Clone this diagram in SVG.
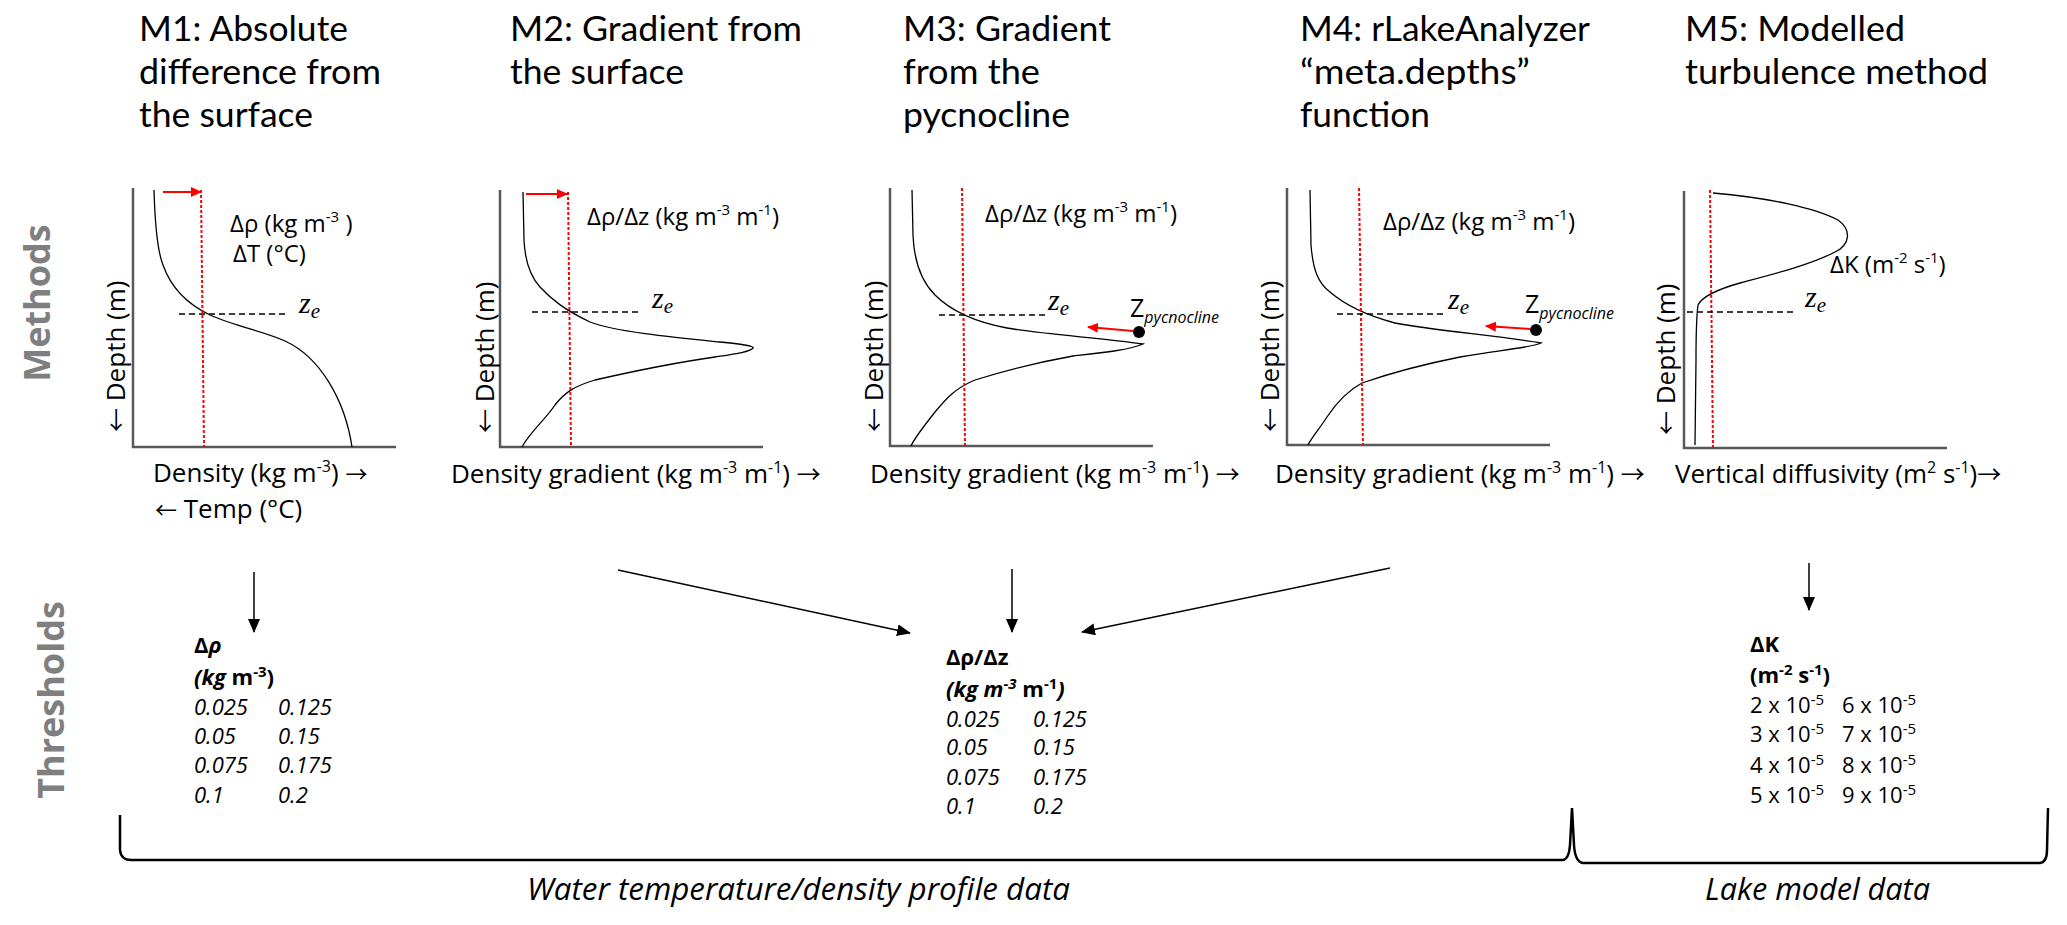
<svg xmlns="http://www.w3.org/2000/svg" width="2067" height="925" viewBox="0 0 2067 925">
<style>
text{font-family:"Open Sans","Noto Sans","DejaVu Sans",sans-serif;fill:#000}
.title{font-family:Lato,"Open Sans",sans-serif;font-size:35px}
.lab{font-size:26px}
.unit{font-size:24px}
.arr{font-family:"Noto Sans CJK SC","DejaVu Sans",sans-serif;font-size:24px}
.arr2{font-family:"Noto Sans CJK SC","DejaVu Sans",sans-serif;font-size:22px}
.ze{font-family:"Liberation Serif",serif;font-style:italic;font-size:30px}
.zp{font-size:25px}
.th{font-size:22px}
.it{font-style:italic}
.b{font-weight:bold}
.side{font-weight:bold;font-size:36px;fill:#7f7f7f}
.bottom{font-size:31px;font-style:italic}
.axis{stroke:#595959;stroke-width:2.5;fill:none}
.curve{stroke:#000;stroke-width:1.3;fill:none}
.red{stroke:#ff0000;stroke-width:2;stroke-dasharray:3 2;fill:none}
.redarr{stroke:#ff0000;stroke-width:2;fill:none;marker-end:url(#rah)}
.dash{stroke:#000;stroke-width:1.5;stroke-dasharray:6 4;fill:none}
.conn{stroke:#000;stroke-width:1.5;fill:none;marker-end:url(#ah)}
.brace{stroke:#000;stroke-width:2.5;fill:none}
</style>
<defs>
<marker id="ah" markerWidth="14" markerHeight="12" refX="13" refY="6" orient="auto" markerUnits="userSpaceOnUse"><path d="M0,0 L14,6 L0,12 z" fill="#000"/></marker>
<marker id="rah" markerWidth="11" markerHeight="10" refX="10" refY="5" orient="auto" markerUnits="userSpaceOnUse"><path d="M0,0 L11,5 L0,10 z" fill="#ff0000"/></marker>
</defs>
<rect width="2067" height="925" fill="#fff"/>

<g id="side-labels">
<text class="side" text-anchor="middle" transform="translate(50,303) rotate(-90)">Methods</text>
<text class="side" text-anchor="middle" transform="translate(64,700) rotate(-90)">Thresholds</text>
</g>

<g id="m1">
<text class="title" x="139" y="41" textLength="209" lengthAdjust="spacingAndGlyphs">M1: Absolute</text>
<text class="title" x="139" y="84" textLength="242" lengthAdjust="spacingAndGlyphs">difference from</text>
<text class="title" x="139" y="127" textLength="174" lengthAdjust="spacingAndGlyphs">the surface</text>
<path class="axis" d="M133,188 L133,447 L396,447"/>
<path class="curve" d="M154,190 C155,225 157,250 163,265 C170,285 185,303 210,315 C235,326 265,332 285,341 C320,357 345,400 352,447"/>
<line class="red" x1="201" y1="190" x2="204" y2="447"/>
<line class="redarr" x1="163" y1="192" x2="201" y2="192"/>
<line class="dash" x1="179" y1="314" x2="287" y2="314"/>
<text class="ze" x="299" y="313">z<tspan font-size="21" dy="5">e</tspan></text>
<text class="unit" x="230" y="232">Δρ (kg m<tspan font-size="15" dy="-10">-3</tspan><tspan dy="10"> )</tspan></text>
<text class="unit" x="233" y="262">ΔT (°C)</text>
<text class="lab" transform="translate(125,432) rotate(-90)"><tspan class="arr">←</tspan> Depth (m)</text>
<text class="lab" x="153" y="482">Density (kg m<tspan font-size="16" dy="-10">-3</tspan><tspan dy="10">) </tspan><tspan class="arr2">→</tspan></text>
<text class="lab" x="155" y="518" font-size="25"><tspan class="arr2">←</tspan> Temp (°C)</text>
</g>

<g id="m2">
<text class="title" x="510" y="41" textLength="292" lengthAdjust="spacingAndGlyphs">M2: Gradient from</text>
<text class="title" x="510" y="84" textLength="174" lengthAdjust="spacingAndGlyphs">the surface</text>
<path class="axis" d="M500,190 L500,447 L763,447"/>
<path class="curve" d="M523,192 L524,240 C525,262 530,276 540,287 C552,300 565,310 590,322 C615,332 680,338 720,342 C740,344 755,346 753,348 C750,352 735,354 715,357 C680,362 630,372 595,380 C575,386 565,392 555,405 C545,420 530,432 522,447"/>
<line class="red" x1="568" y1="192" x2="571" y2="447"/>
<line class="redarr" x1="526" y1="194" x2="567" y2="194"/>
<line class="dash" x1="532" y1="312" x2="640" y2="312"/>
<text class="ze" x="652" y="308">z<tspan font-size="21" dy="5">e</tspan></text>
<text class="unit" x="587" y="225">Δρ/Δz (kg m<tspan font-size="15" dy="-10">-3</tspan><tspan dy="10"> m</tspan><tspan font-size="15" dy="-10">-1</tspan><tspan dy="10">)</tspan></text>
<text class="lab" transform="translate(494,433) rotate(-90)"><tspan class="arr">←</tspan> Depth (m)</text>
<text class="lab" x="451" y="483">Density gradient (kg m<tspan font-size="16" dy="-10">-3</tspan><tspan dy="10"> m</tspan><tspan font-size="16" dy="-10">-1</tspan><tspan dy="10">) </tspan><tspan class="arr">→</tspan></text>
</g>

<g id="m3">
<text class="title" x="903" y="41" textLength="208" lengthAdjust="spacingAndGlyphs">M3: Gradient</text>
<text class="title" x="903" y="84" textLength="137" lengthAdjust="spacingAndGlyphs">from the</text>
<text class="title" x="903" y="127" textLength="167" lengthAdjust="spacingAndGlyphs">pycnocline</text>
<path class="axis" d="M890,188 L890,446 L1153,446"/>
<path class="curve" d="M912,190 L913,235 C914,260 920,280 935,295 C950,310 975,322 1007,328 C1040,334 1100,338 1143,344 C1130,350 1100,353 1073,356 C1040,362 1000,372 975,380 C955,388 945,400 935,412 C925,425 915,437 911,446"/>
<line class="red" x1="962" y1="188" x2="965" y2="446"/>
<line class="dash" x1="939" y1="315" x2="1047" y2="315"/>
<text class="ze" x="1048" y="310">z<tspan font-size="21" dy="5">e</tspan></text>
<circle cx="1139" cy="332" r="6" fill="#000"/>
<line class="redarr" x1="1133" y1="331" x2="1088" y2="327"/>
<text class="zp" x="1130" y="317">Z<tspan class="it" font-size="16" dy="6">pycnocline</tspan></text>
<text class="unit" x="985" y="222">Δρ/Δz (kg m<tspan font-size="15" dy="-10">-3</tspan><tspan dy="10"> m</tspan><tspan font-size="15" dy="-10">-1</tspan><tspan dy="10">)</tspan></text>
<text class="lab" transform="translate(883,432) rotate(-90)"><tspan class="arr">←</tspan> Depth (m)</text>
<text class="lab" x="870" y="483">Density gradient (kg m<tspan font-size="16" dy="-10">-3</tspan><tspan dy="10"> m</tspan><tspan font-size="16" dy="-10">-1</tspan><tspan dy="10">) </tspan><tspan class="arr">→</tspan></text>
</g>

<g id="m4">
<text class="title" x="1300" y="41" textLength="290" lengthAdjust="spacingAndGlyphs">M4: rLakeAnalyzer</text>
<text class="title" x="1300" y="84" textLength="230" lengthAdjust="spacingAndGlyphs">“meta.depths”</text>
<text class="title" x="1300" y="127" textLength="130" lengthAdjust="spacingAndGlyphs">function</text>
<path class="axis" d="M1287,188 L1287,445 L1550,445"/>
<path class="curve" d="M1310,190 L1311,245 C1313,270 1318,283 1330,292 C1345,305 1365,315 1395,323 C1430,330 1500,336 1541,343 C1530,348 1500,350 1460,357 C1420,365 1385,375 1362,383 C1345,392 1335,405 1327,417 C1320,428 1312,437 1308,445"/>
<line class="red" x1="1359" y1="188" x2="1363" y2="445"/>
<line class="dash" x1="1337" y1="314" x2="1445" y2="314"/>
<text class="ze" x="1448" y="309">z<tspan font-size="21" dy="5">e</tspan></text>
<circle cx="1536" cy="330" r="6" fill="#000"/>
<line class="redarr" x1="1530" y1="329" x2="1486" y2="326"/>
<text class="zp" x="1525" y="313">Z<tspan class="it" font-size="16" dy="6">pycnocline</tspan></text>
<text class="unit" x="1383" y="230">Δρ/Δz (kg m<tspan font-size="15" dy="-10">-3</tspan><tspan dy="10"> m</tspan><tspan font-size="15" dy="-10">-1</tspan><tspan dy="10">)</tspan></text>
<text class="lab" transform="translate(1279,432) rotate(-90)"><tspan class="arr">←</tspan> Depth (m)</text>
<text class="lab" x="1275" y="483">Density gradient (kg m<tspan font-size="16" dy="-10">-3</tspan><tspan dy="10"> m</tspan><tspan font-size="16" dy="-10">-1</tspan><tspan dy="10">) </tspan><tspan class="arr">→</tspan></text>
</g>

<g id="m5">
<text class="title" x="1685" y="41" textLength="220" lengthAdjust="spacingAndGlyphs">M5: Modelled</text>
<text class="title" x="1685" y="84" textLength="303" lengthAdjust="spacingAndGlyphs">turbulence method</text>
<path class="axis" d="M1684,191 L1684,448 L1947,448"/>
<path class="curve" d="M1713,193 C1770,198 1815,208 1838,220 C1852,230 1850,245 1835,252 C1810,265 1770,275 1740,283 C1715,290 1702,297 1698,305 C1696,320 1696,340 1696,360 L1695,445"/>
<line class="red" x1="1710" y1="190" x2="1713" y2="448"/>
<line class="dash" x1="1687" y1="312" x2="1793" y2="312"/>
<text class="ze" x="1805" y="307">z<tspan font-size="21" dy="5">e</tspan></text>
<text class="unit" x="1830" y="273">ΔK (m<tspan font-size="15" dy="-10">-2</tspan><tspan dy="10"> s</tspan><tspan font-size="15" dy="-10">-1</tspan><tspan dy="10">)</tspan></text>
<text class="lab" transform="translate(1675,435) rotate(-90)"><tspan class="arr">←</tspan> Depth (m)</text>
<text class="lab" x="1675" y="483">Vertical diffusivity (m<tspan font-size="16" dy="-10">2</tspan><tspan dy="10"> s</tspan><tspan font-size="16" dy="-10">-1</tspan><tspan dy="10">)</tspan><tspan class="arr">→</tspan></text>
</g>

<g id="connectors">
<line class="conn" x1="254" y1="572" x2="254" y2="632"/>
<line class="conn" x1="618" y1="570" x2="910" y2="633"/>
<line class="conn" x1="1012" y1="569" x2="1012" y2="632"/>
<line class="conn" x1="1390" y1="568" x2="1082" y2="632"/>
<line class="conn" x1="1809" y1="563" x2="1809" y2="610"/>
</g>

<g id="thr1">
<text class="th b" x="194" y="653">Δ<tspan class="it">ρ</tspan></text>
<text class="th b" x="194" y="685"><tspan class="it">(kg</tspan> m<tspan font-size="15" dy="-8">-3</tspan><tspan dy="8">)</tspan></text>
<text class="th it" x="194" y="715">0.025</text><text class="th it" x="278" y="715">0.125</text>
<text class="th it" x="194" y="744">0.05</text><text class="th it" x="278" y="744">0.15</text>
<text class="th it" x="194" y="773">0.075</text><text class="th it" x="278" y="773">0.175</text>
<text class="th it" x="194" y="803">0.1</text><text class="th it" x="278" y="803">0.2</text>
</g>

<g id="thr234">
<text class="th b" x="946" y="665">Δρ/Δz</text>
<text class="th b" x="946" y="697"><tspan class="it">(kg m</tspan><tspan class="it" font-size="15" dy="-8">-3</tspan><tspan dy="8"> m</tspan><tspan font-size="15" dy="-8">-1</tspan><tspan class="it" dy="8">)</tspan></text>
<text class="th it" x="946" y="727">0.025</text><text class="th it" x="1033" y="727">0.125</text>
<text class="th it" x="946" y="755">0.05</text><text class="th it" x="1033" y="755">0.15</text>
<text class="th it" x="946" y="785">0.075</text><text class="th it" x="1033" y="785">0.175</text>
<text class="th it" x="946" y="814">0.1</text><text class="th it" x="1033" y="814">0.2</text>
</g>

<g id="thr5">
<text class="th b" x="1750" y="652">ΔK</text>
<text class="th b" x="1750" y="683">(m<tspan font-size="15" dy="-8">-2</tspan><tspan dy="8"> s</tspan><tspan font-size="15" dy="-8">-1</tspan><tspan dy="8">)</tspan></text>
<text class="th" x="1750" y="713">2 x 10<tspan font-size="15" dy="-8">-5</tspan></text><text class="th" x="1842" y="713">6 x 10<tspan font-size="15" dy="-8">-5</tspan></text>
<text class="th" x="1750" y="742">3 x 10<tspan font-size="15" dy="-8">-5</tspan></text><text class="th" x="1842" y="742">7 x 10<tspan font-size="15" dy="-8">-5</tspan></text>
<text class="th" x="1750" y="773">4 x 10<tspan font-size="15" dy="-8">-5</tspan></text><text class="th" x="1842" y="773">8 x 10<tspan font-size="15" dy="-8">-5</tspan></text>
<text class="th" x="1750" y="803">5 x 10<tspan font-size="15" dy="-8">-5</tspan></text><text class="th" x="1842" y="803">9 x 10<tspan font-size="15" dy="-8">-5</tspan></text>
</g>

<g id="brackets">
<path class="brace" d="M120,815 L120,850 Q121,860 131,860 L1563,860 Q1569,859 1570,845 L1572,808 L1574,845 Q1575,862 1583,863 L2040,863 Q2047,862 2047,850 L2048,808"/>
<text class="bottom" x="527" y="900" textLength="543" lengthAdjust="spacingAndGlyphs">Water temperature/density profile data</text>
<text class="bottom" x="1705" y="900" textLength="225" lengthAdjust="spacingAndGlyphs">Lake model data</text>
</g>
</svg>
